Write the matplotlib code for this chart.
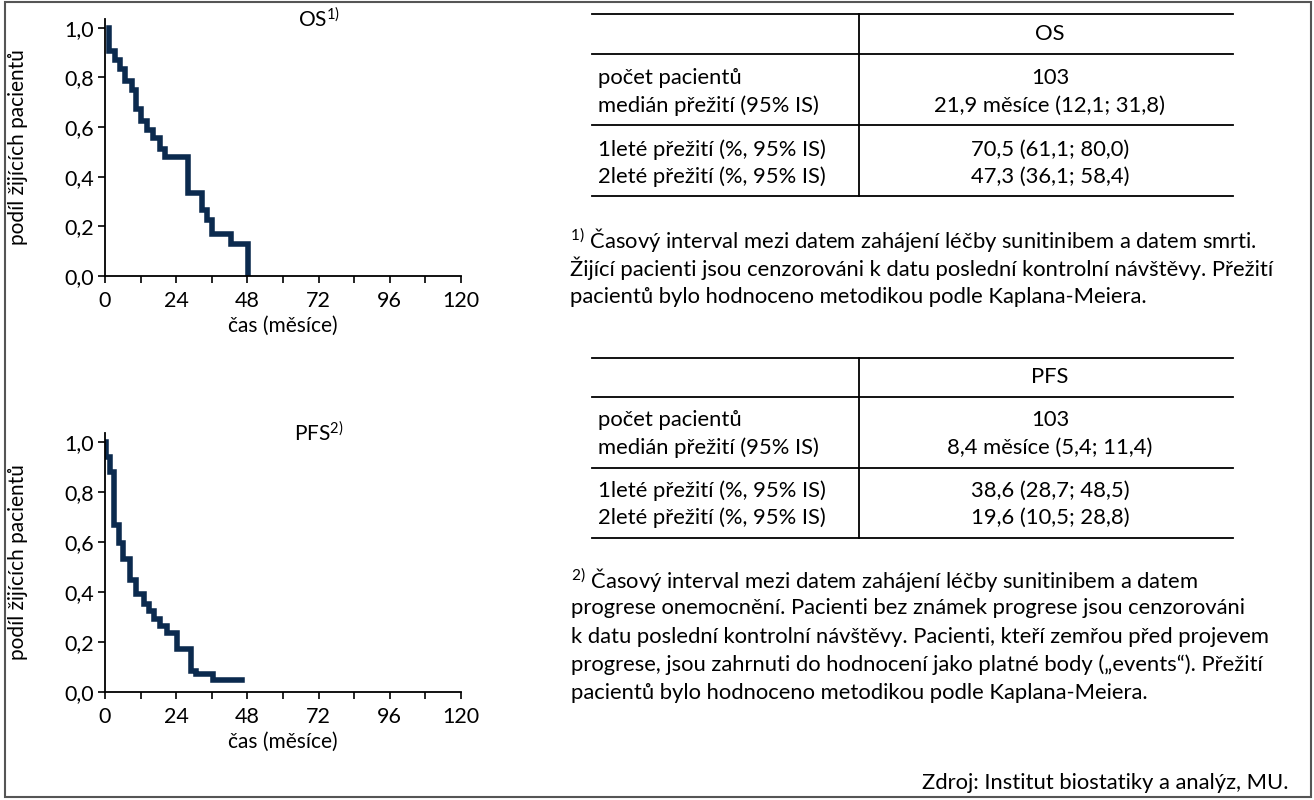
import matplotlib
matplotlib.use("Agg")
import matplotlib.pyplot as plt
from matplotlib.lines import Line2D
from matplotlib.patches import Rectangle

plt.rcParams['font.family'] = ['Lato', 'DejaVu Sans']
plt.rcParams['mathtext.fontset'] = 'custom'
plt.rcParams['mathtext.rm'] = 'Lato'
plt.rcParams['mathtext.it'] = 'Lato'

# Kaplan-Meier steps (months, share alive)
os_time = [1.5, 1.5, 3.4, 5.1, 6.7, 9.1, 10.6, 12.0, 14.3, 16.1, 18.6, 20.3,
           28.1, 32.7, 34.3, 36.1, 42.6, 48.3]
os_surv = [1.0, 0.906, 0.869, 0.833, 0.786, 0.749, 0.672, 0.626, 0.586, 0.556,
           0.512, 0.479, 0.334, 0.265, 0.225, 0.171, 0.127, 0.0]

pfs_time = [0.0, 0.2, 1.6, 2.9, 4.6, 6.2, 8.3, 10.3, 13.0, 14.9, 16.6, 18.6,
            21.0, 24.3, 28.9, 30.7, 36.4, 46.3]
pfs_surv = [1.0, 0.94, 0.88, 0.666, 0.594, 0.531, 0.448, 0.39, 0.352, 0.325,
            0.29, 0.265, 0.237, 0.172, 0.082, 0.07, 0.048, 0.048]

x_ticks = [0, 24, 48, 72, 96, 120]
y_ticks = [0.0, 0.2, 0.4, 0.6, 0.8, 1.0]
y_ticklabels = ['0,0', '0,2', '0,4', '0,6', '0,8', '1,0']

row_labels = ['počet pacientů', 'medián přežití (95% IS)',
              '1leté přežití (%, 95% IS)', '2leté přežití (%, 95% IS)']
os_values = ['103', '21,9 měsíce (12,1; 31,8)', '70,5 (61,1; 80,0)', '47,3 (36,1; 58,4)']
pfs_values = ['103', '8,4 měsíce (5,4; 11,4)', '38,6 (28,7; 48,5)', '19,6 (10,5; 28,8)']

note1 = [r'$^{\mathrm{1)}}$ Časový interval mezi datem zahájení léčby sunitinibem a datem smrti.',
         'Žijící pacienti jsou cenzorováni k datu poslední kontrolní návštěvy. Přežití',
         'pacientů bylo hodnoceno metodikou podle Kaplana-Meiera.']
note2 = [r'$^{\mathrm{2)}}$ Časový interval mezi datem zahájení léčby sunitinibem a datem',
         'progrese onemocnění. Pacienti bez známek progrese jsou cenzorováni',
         'k datu poslední kontrolní návštěvy. Pacienti, kteří zemřou před projevem',
         'progrese, jsou zahrnuti do hodnocení jako platné body („events“). Přežití',
         'pacientů bylo hodnoceno metodikou podle Kaplana-Meiera.']
source = 'Zdroj: Institut biostatiky a analýz, MU.'

W, H = 1314, 800
fig = plt.figure(figsize=(W / 100, H / 100), dpi=100)
line_col = '#0b2a4e'


def km_axes(rect, t, s, title):
    ax = fig.add_axes(rect)
    ax.step(t, s, where='post', color=line_col, lw=4, solid_joinstyle='miter')
    ax.set_xlim(0, 120)
    ax.set_ylim(0, 1.035)
    ax.set_xticks(x_ticks)
    ax.set_xticks([12, 36, 60, 84, 108], minor=True)
    ax.set_yticks(y_ticks)
    ax.set_yticklabels(y_ticklabels)
    ax.spines['top'].set_visible(False)
    ax.spines['right'].set_visible(False)
    for sp in ('left', 'bottom'):
        ax.spines[sp].set_linewidth(1.3)
    ax.tick_params(which='both', direction='out', length=5, width=1.2,
                   labelsize=15.5, pad=3)
    ax.tick_params(axis='x', pad=6)
    ax.set_xlabel('čas (měsíce)', fontsize=15, labelpad=3)
    ax.set_ylabel('podíl žijících pacientů', fontsize=15, labelpad=26)
    ax.text(0.6, 1.0, title, transform=ax.transAxes, ha='center', va='center',
            fontsize=15)
    return ax


km_axes([105 / W, 1 - 276 / H, 356 / W, 257 / H], os_time, os_surv, r'OS$^{\mathrm{1)}}$')
km_axes([105 / W, 1 - 692 / H, 356 / W, 259 / H], pfs_time, pfs_surv, r'PFS$^{\mathrm{2)}}$')

# overlay in pixel units for the tables and notes
ov = fig.add_axes([0, 0, 1, 1])
ov.set_xlim(0, W)
ov.set_ylim(H, 0)
ov.axis('off')

fs = 15.8


def table(top, rules, header, header_y, rows_y, values):
    for y in [top] + rules:
        ov.add_line(Line2D([592, 1233], [y, y], color='black', lw=1.3))
    ov.add_line(Line2D([859, 859], [top, rules[-1]], color='black', lw=1.3))
    ov.text(1050, header_y, header, ha='center', va='center', fontsize=fs)
    for lab, val, y in zip(row_labels, values, rows_y):
        ov.text(598, y, lab, ha='left', va='center', fontsize=fs)
        ov.text(1050, y, val, ha='center', va='center', fontsize=fs)


table(14, [54, 125, 196], 'OS', 34, [78, 106, 150, 177], os_values)
table(358, [397, 468, 538], 'PFS', 377, [420, 448, 491, 518], pfs_values)

for i, txt in enumerate(note1):
    ov.text(570, 240 + i * 28.5, txt, ha='left', va='center', fontsize=fs)
for i, txt in enumerate(note2):
    ov.text(571, 580 + i * 28.3, txt, ha='left', va='center', fontsize=fs)
ov.text(1288, 783, source, ha='right', va='center', fontsize=fs)

ov.add_patch(Rectangle((5, 2), 1306, 795, fill=False, ec='#555555', lw=1.5))

fig.savefig('out.png', dpi=100)
